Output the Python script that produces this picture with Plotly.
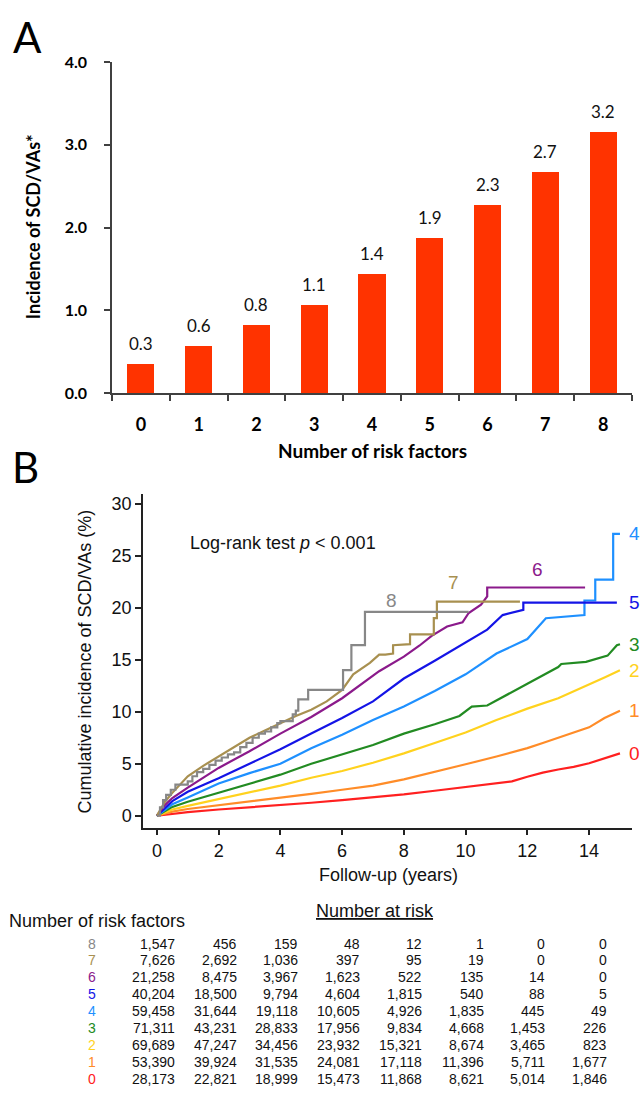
import plotly.graph_objects as go

# ---------------- DATA ----------------
# Panel A
risk_factors = [0, 1, 2, 3, 4, 5, 6, 7, 8]
incidence = [0.35, 0.57, 0.82, 1.07, 1.44, 1.87, 2.27, 2.67, 3.15]
incidence_labels = ["0.3", "0.6", "0.8", "1.1", "1.4", "1.9", "2.3", "2.7", "3.2"]
a_yticks = [0, 1, 2, 3, 4]
a_yticktext = ["0.0", "1.0", "2.0", "3.0", "4.0"]

# Panel B: cumulative incidence (%)
times_0 = [0, 0.5, 1, 2, 3, 4, 5, 6, 7, 8, 9, 10, 11, 11.5, 12, 12.5, 13, 13.5, 14, 14.5, 15]
cuminc_0 = [0, 0.2, 0.35, 0.6, 0.8, 1.0, 1.25, 1.5, 1.75, 2.05, 2.4, 2.75, 3.1, 3.3, 3.75, 4.15, 4.45, 4.7, 5.05, 5.5, 6.0]

times_1 = [0, 0.5, 1, 2, 3, 4, 5, 6, 7, 8, 9, 10, 11, 12, 12.5, 13, 13.5, 14, 14.5, 15]
cuminc_1 = [0, 0.4, 0.65, 1.0, 1.35, 1.75, 2.1, 2.5, 2.9, 3.5, 4.2, 4.95, 5.7, 6.5, 7.0, 7.5, 8.0, 8.5, 9.4, 10.1]

times_2 = [0, 0.5, 1, 2, 3, 4, 5, 6, 7, 8, 9, 10, 11, 12, 13, 14, 14.5, 15]
cuminc_2 = [0, 0.6, 0.95, 1.6, 2.2, 2.9, 3.65, 4.3, 5.1, 6.0, 7.0, 8.0, 9.2, 10.3, 11.3, 12.6, 13.3, 14.0]

times_3 = [0, 0.5, 1, 2, 3, 4, 5, 6, 7, 8, 9, 9.8, 10.2, 10.7, 11, 12, 13, 13.1, 13.9, 14.6, 14.9, 15]
cuminc_3 = [0, 0.85, 1.35, 2.2, 3.1, 3.95, 5.0, 5.9, 6.8, 7.9, 8.8, 9.6, 10.5, 10.6, 11.1, 12.7, 14.3, 14.6, 14.8, 15.4, 16.4, 16.5]

times_4 = [0, 0.5, 1, 2, 3, 4, 5, 6, 7, 8, 9, 10, 11, 12, 12.6, 13.85, 13.85, 14.2, 14.2, 14.78, 14.78, 15]
cuminc_4 = [0, 1.1, 1.75, 3.1, 4.1, 5.0, 6.5, 7.8, 9.2, 10.5, 12.0, 13.6, 15.6, 17.0, 19.0, 19.3, 20.7, 20.7, 22.7, 22.7, 27.1, 27.1]

times_5 = [0, 0.5, 1, 2, 3, 4, 5, 6, 7, 8, 9, 10, 10.7, 11.2, 11.87, 11.87, 14.9]
cuminc_5 = [0, 1.4, 2.3, 3.6, 5.0, 6.4, 7.9, 9.4, 11.0, 13.2, 14.9, 16.7, 17.9, 19.3, 19.8, 20.5, 20.5]

times_6 = [0, 0.25, 0.5, 1, 2, 3, 4, 5, 6, 6.6, 7.2, 8.0, 8.5, 8.9, 9.4, 9.9, 10.1, 10.5, 10.7, 10.7, 13.87]
cuminc_6 = [0, 1.0, 1.7, 2.7, 4.6, 6.2, 7.9, 9.5, 11.3, 12.6, 13.9, 15.3, 16.35, 17.3, 18.2, 18.6, 19.5, 20.3, 21.1, 21.95, 21.95]

times_7 = [0, 0.25, 0.5, 1, 1.5, 2, 2.5, 3, 3.5, 4, 4.5, 5, 5.5, 6, 6.36, 6.9, 7.2, 7.4, 7.65, 7.65, 8.2, 8.2, 8.97, 8.97, 9.07, 9.07, 11.76]
cuminc_7 = [0, 1.3, 2.2, 3.8, 4.8, 5.7, 6.6, 7.5, 8.2, 8.9, 9.6, 10.2, 11.0, 12.1, 13.6, 14.7, 15.5, 15.5, 15.6, 16.4, 16.5, 17.45, 17.45, 19.0, 19.0, 20.6, 20.6]

times_8 = [0, 0.1, 0.2, 0.3, 0.45, 0.6, 1.0, 1.15, 1.3, 1.5, 1.7, 1.9, 2.1, 2.3, 2.5, 2.7, 2.9, 3.1, 3.3, 3.5, 3.7, 3.9, 4.0, 4.4, 4.5, 4.58, 4.9, 6.03, 6.3, 6.74, 10.1]
cuminc_8 = [0, 0.8, 1.5, 2.0, 2.5, 3.0, 3.3, 3.8, 4.2, 4.5, 4.9, 5.3, 5.6, 5.9, 6.1, 6.6, 7.0, 7.5, 7.9, 8.1, 8.5, 8.9, 9.1, 9.75, 10.1, 11.2, 12.1, 14.0, 16.4, 19.6, 19.6]

b_xticks = [0, 2, 4, 6, 8, 10, 12, 14]
b_yticks = [0, 5, 10, 15, 20, 25, 30]

# Number at risk table
at_risk_times = [0, 2, 4, 6, 8, 10, 12, 14]
at_risk_8 = [1547, 456, 159, 48, 12, 1, 0, 0]
at_risk_7 = [7626, 2692, 1036, 397, 95, 19, 0, 0]
at_risk_6 = [21258, 8475, 3967, 1623, 522, 135, 14, 0]
at_risk_5 = [40204, 18500, 9794, 4604, 1815, 540, 88, 5]
at_risk_4 = [59458, 31644, 19118, 10605, 4926, 1835, 445, 49]
at_risk_3 = [71311, 43231, 28833, 17956, 9834, 4668, 1453, 226]
at_risk_2 = [69689, 47247, 34456, 23932, 15321, 8674, 3465, 823]
at_risk_1 = [53390, 39924, 31535, 24081, 17118, 11396, 5711, 1677]
at_risk_0 = [28173, 22821, 18999, 15473, 11868, 8621, 5014, 1846]

# ---------------- STYLE ----------------
W, H = 641, 1097
def px(x):
    return x / W
def py(y):
    return 1 - y / H

colors = {0: "#FF2020", 1: "#FF8C28", 2: "#FFD21E", 3: "#228B22", 4: "#1E90FF",
          5: "#1414E6", 6: "#8B1A8B", 7: "#A89050", 8: "#878787"}
curves = {0: (times_0, cuminc_0), 1: (times_1, cuminc_1), 2: (times_2, cuminc_2),
          3: (times_3, cuminc_3), 4: (times_4, cuminc_4), 5: (times_5, cuminc_5),
          6: (times_6, cuminc_6), 7: (times_7, cuminc_7), 8: (times_8, cuminc_8)}
at_risk = {8: at_risk_8, 7: at_risk_7, 6: at_risk_6, 5: at_risk_5, 4: at_risk_4,
           3: at_risk_3, 2: at_risk_2, 1: at_risk_1, 0: at_risk_0}
shapes_kind = {8: "hv"}
inner_label_pos = {6: (12.34, 23.7), 7: (9.6, 22.4), 8: (7.6, 20.7)}

FA = "Lato"
FB = "Liberation Sans, Arial"

fig = go.Figure()

# Panel A bars
fig.add_trace(go.Bar(x=risk_factors, y=incidence, marker=dict(color="#FF3300", line=dict(width=0)),
                     width=0.47, xaxis="x", yaxis="y", showlegend=False, hoverinfo="skip"))

# Panel B curves (draw 0 first so higher groups are on top)
for g in range(0, 9):
    t, v = curves[g]
    fig.add_trace(go.Scatter(x=t, y=v, mode="lines",
                             line=dict(color=colors[g], width=2.2, shape=shapes_kind.get(g, "linear")),
                             xaxis="x2", yaxis="y2", showlegend=False, hoverinfo="skip"))

ann = []
# bar value labels
for xv, yv, lab in zip(risk_factors, incidence, incidence_labels):
    ann.append(dict(x=xv, y=yv, xref="x", yref="y", text=lab, showarrow=False,
                    yanchor="bottom", yshift=8, font=dict(family=FA, size=17, color="#111")))

# Panel letters
ann.append(dict(x=px(27), y=py(27), xref="paper", yref="paper", text="A", showarrow=False,
                xanchor="center", yanchor="middle", font=dict(family=FA, size=42, color="black")))
ann.append(dict(x=px(25), y=py(465), xref="paper", yref="paper", text="B", showarrow=False,
                xanchor="center", yanchor="middle", font=dict(family=FA, size=42, color="black")))

# Panel A axis titles
ann.append(dict(x=px(33), y=py(221), xref="paper", yref="paper", text="Incidence of SCD/VAs*",
                textangle=-90, showarrow=False, xanchor="center", yanchor="middle",
                font=dict(family=FA, size=18, color="black", weight="bold")))
ann.append(dict(x=px(372), y=py(448), xref="paper", yref="paper", text="Number of risk factors",
                showarrow=False, xanchor="center", yanchor="middle",
                font=dict(family=FA, size=19, color="black", weight="bold")))

# Panel B texts
ann.append(dict(x=px(85), y=py(663), xref="paper", yref="paper",
                text="Cumulative incidence of SCD/VAs (%)", textangle=-90, showarrow=False,
                xanchor="center", yanchor="middle", font=dict(family=FB, size=18, color="#111")))
ann.append(dict(x=px(388), y=py(880), xref="paper", yref="paper", text="Follow-up (years)",
                showarrow=False, xanchor="center", yanchor="middle",
                font=dict(family=FB, size=18, color="#111")))
ann.append(dict(x=px(188), y=py(542), xref="paper", yref="paper",
                text="Log-rank test <i>p</i> &lt; 0.001", showarrow=False,
                xanchor="left", yanchor="middle", font=dict(family=FB, size=18, color="#111")))

# curve labels
for g in range(0, 6):
    t, v = curves[g]
    ann.append(dict(x=15.23, y=v[-1], xref="x2", yref="y2", text=str(g), showarrow=False,
                    xanchor="left", yanchor="middle", font=dict(family=FB, size=19, color=colors[g])))
for g, (lx, ly) in inner_label_pos.items():
    ann.append(dict(x=lx, y=ly, xref="x2", yref="y2", text=str(g), showarrow=False,
                    xanchor="center", yanchor="middle", font=dict(family=FB, size=19, color=colors[g])))

# Table
ann.append(dict(x=px(375), y=py(917), xref="paper", yref="paper", text="<u>Number at risk</u>",
                showarrow=False, xanchor="center", yanchor="middle",
                font=dict(family=FB, size=18, color="#111")))
ann.append(dict(x=px(7), y=py(927), xref="paper", yref="paper", text="Number of risk factors",
                showarrow=False, xanchor="left", yanchor="middle",
                font=dict(family=FB, size=18, color="#111")))
row_y0, row_dy = 950, 17.25
for i, g in enumerate([8, 7, 6, 5, 4, 3, 2, 1, 0]):
    yy = py(row_y0 + i * row_dy)
    ann.append(dict(x=px(98), y=yy, xref="paper", yref="paper", text=str(g), showarrow=False,
                    xanchor="right", yanchor="middle", font=dict(family=FB, size=14, color=colors[g])))
    for tt, n in zip(at_risk_times, at_risk[g]):
        ann.append(dict(x=tt, y=yy, xref="x2", yref="paper", text=f"{n:,}", showarrow=False,
                        xanchor="right", yanchor="middle", xshift=20,
                        font=dict(family=FB, size=14, color="#111")))

fig.update_layout(
    width=W, height=H, autosize=False,
    margin=dict(l=0, r=0, t=0, b=0),
    paper_bgcolor="white", plot_bgcolor="white",
    bargap=0,
    annotations=ann,
    xaxis=dict(domain=[px(112), px(632)], range=[-0.5, 8.5], anchor="y",
               tickvals=risk_factors, ticktext=[str(c) for c in risk_factors],
               ticks="", showline=True, linecolor="#404040", linewidth=1.5,
               showgrid=False, zeroline=False, ticklabelstandoff=14,
               tickfont=dict(family=FA, size=18, color="black", weight="bold"),
               minor=dict(tickvals=[i - 0.5 for i in range(10)], ticks="outside",
                          ticklen=6, tickcolor="#404040", tickwidth=1.5, showgrid=False)),
    yaxis=dict(domain=[py(390), py(53)], range=[0, 4], anchor="x",
               tickvals=a_yticks, ticktext=a_yticktext, ticks="outside", ticklen=6,
               tickcolor="#404040", tickwidth=1.5, showline=True, linecolor="#404040",
               linewidth=1.5, showgrid=False, zeroline=False, ticklabelstandoff=14,
               tickfont=dict(family=FA, size=16, color="black", weight="bold")),
    xaxis2=dict(domain=[px(143), px(632)], range=[-0.45, 15.39], anchor="y2",
                tickvals=b_xticks, ticks="outside", ticklen=6, tickcolor="#222",
                tickwidth=1.5, showline=True, linecolor="#222", linewidth=1.5,
                showgrid=False, zeroline=False,
                tickfont=dict(family=FB, size=18, color="#111")),
    yaxis2=dict(domain=[py(832), py(493)], range=[-1.14, 30.9], anchor="x2",
                tickvals=b_yticks, ticks="outside", ticklen=6, tickcolor="#222",
                tickwidth=1.5, showline=True, linecolor="#222", linewidth=1.5,
                showgrid=False, zeroline=False,
                tickfont=dict(family=FB, size=18, color="#111")),
)

fig.write_html("out.html", config={"displayModeBar": False},
               post_script="document.body.style.margin='0';document.body.style.overflow='hidden';")
